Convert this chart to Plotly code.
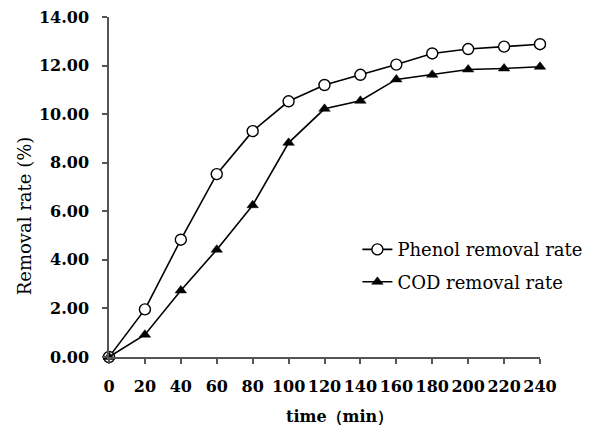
import plotly.graph_objects as go

time_min = [0, 20, 40, 60, 80, 100, 120, 140, 160, 180, 200, 220, 240]
phenol_rate = [0.0, 1.96, 4.83, 7.53, 9.30, 10.53, 11.20, 11.62, 12.04, 12.50, 12.68, 12.78, 12.88]
cod_rate = [0.0, 0.92, 2.74, 4.42, 6.25, 8.82, 10.22, 10.55, 11.43, 11.62, 11.84, 11.88, 11.95]
y_ticks = [0, 2, 4, 6, 8, 10, 12, 14]
x_ticks = [0, 20, 40, 60, 80, 100, 120, 140, 160, 180, 200, 220, 240]

serif = "DejaVu Serif"

fig = go.Figure()
fig.add_trace(go.Scatter(
    x=time_min, y=phenol_rate, name="Phenol removal rate", legendgroup="a",
    mode="lines+markers", cliponaxis=False,
    line=dict(color="black", width=1.6),
    marker=dict(symbol="circle", size=11, color="white", line=dict(color="black", width=1.4)),
))
fig.add_trace(go.Scatter(
    x=time_min, y=cod_rate, name="COD removal rate", legendgroup="b",
    mode="lines+markers", cliponaxis=False,
    line=dict(color="black", width=1.6),
    marker=dict(symbol="triangle-up", size=10, color="black", line=dict(color="black", width=0.5)),
))

fig.add_annotation(text="<b>time（min）</b>", xref="paper", yref="paper",
                   x=0.535, y=0, yshift=-59, xanchor="center", yanchor="middle",
                   showarrow=False, font=dict(family=serif, size=16, color="black"))
fig.add_annotation(text="Removal rate (%)", xref="paper", yref="paper",
                   x=-0.194, y=0.415, textangle=-90, xanchor="center", yanchor="middle",
                   showarrow=False, font=dict(family=serif, size=18, color="black"))

fig.update_layout(
    width=589, height=418,
    margin=dict(l=101, r=56, t=9, b=69),
    paper_bgcolor="white", plot_bgcolor="white",
    font=dict(family=serif, color="black", size=16),
    showlegend=True,
    legend=dict(x=0.575, y=0.37, xanchor="left", yanchor="top",
                font=dict(family=serif, size=18, color="black"),
                bgcolor="rgba(0,0,0,0)", tracegroupgap=6),
    xaxis=dict(range=[0, 240], tickvals=x_ticks, ticktext=[f"<b>{v}</b>" for v in x_ticks],
               showline=True, linecolor="#555", linewidth=1.5, automargin=False,
               ticks="outside", ticklen=5, tickcolor="#555", tickwidth=1.5,
               showgrid=False, zeroline=False, ticklabeloverflow="allow",
               ticklabelstandoff=9,
               tickfont=dict(size=16, family=serif, color="black")),
    yaxis=dict(range=[0, 14], tickvals=y_ticks, ticktext=[f"<b>{v:.2f}</b>" for v in y_ticks],
               showline=True, linecolor="#555", linewidth=1.5, automargin=False,
               ticks="outside", ticklen=5, tickcolor="#555", tickwidth=1.5,
               showgrid=False, zeroline=False, ticklabeloverflow="allow",
               ticklabelstandoff=10,
               tickfont=dict(size=16, family=serif, color="black")),
)

fig.write_html("out.html")
